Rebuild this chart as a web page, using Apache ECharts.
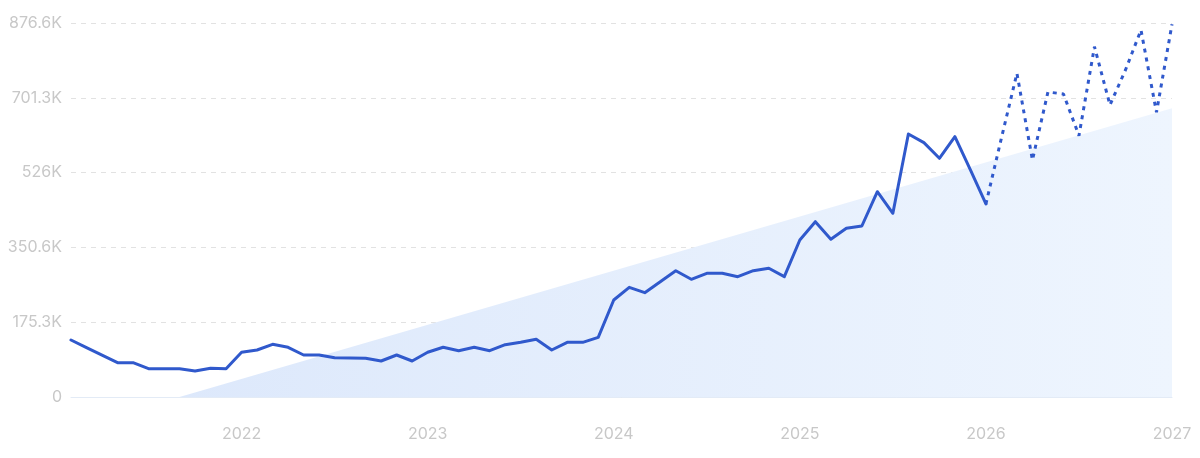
<!DOCTYPE html>
<html>
<head>
<meta charset="utf-8">
<script src="https://cdn.jsdelivr.net/npm/echarts@6/dist/echarts.min.js"></script>
<style>
html,body{margin:0;padding:0;background:#fff;}
#chart{width:1200px;height:458px;}
</style>
</head>
<body>
<div id="chart"></div>
<script>
// Monthly categories, Feb 2021 .. Jan 2027
var startYear = 2021, startMonth = 2, monthCount = 72;
var categories = [];
for (var k = 0; k < monthCount; k++) {
  var m = (startMonth - 1 + k) % 12 + 1;
  var y = startYear + Math.floor((startMonth - 1 + k) / 12);
  categories.push(y + '-' + (m < 10 ? '0' + m : m));
}

// Values in thousands
var actualValues = [
  133.6,115.8,98,80.4,80.4,66.3,66.3,66.3,61,67.3,
  66.3,104.8,110.2,123.5,116.5,98.4,98.4,92.1,91.4,90.7,
  84.4,98.4,84.4,104.8,116.5,108.5,116.5,108.5,122.6,128.2,
  135.2,110.2,128.2,128.2,139.9,227.4,257.1,244.5,270.3,296,
  275.9,289.9,289.9,282,296,301.7,282,368,410.9,369.6,
  395.4,400.8,481.2,430.6,616.4,596.1,559.5,610.1,532.1,452.4
];
var forecastValues = [452.4,607,758.7,555.5,714.9,710.2,612.5,821,684.4,766.5,860.2,667.3,873.6];
var trendStart = -74;   // trend value at first month
var trendEnd = 677;     // trend value at last month

var yTickLabels = ['0','175.3K','350.6K','526K','701.3K','876.6K'];
var yMax = 876.6, yStep = 175.32;

var actualData = categories.map(function(c, i){ return i < actualValues.length ? actualValues[i] : null; });
var fcStart = actualValues.length - 1;
var forecastData = categories.map(function(c, i){ return i >= fcStart ? forecastValues[i - fcStart] : null; });
var trendData = categories.map(function(c, i){
  if (i === 0) return trendStart;
  if (i === categories.length - 1) return trendEnd;
  return null;
});

var chart = echarts.init(document.getElementById('chart'), null, {renderer:'canvas'});
var labelColor = '#c8c8c8';
chart.setOption({
  animation:false,
  grid:{left:71,right:28,top:23,bottom:61,containLabel:false},
  xAxis:{
    type:'category',
    data:categories,
    boundaryGap:false,
    axisLine:{show:true,lineStyle:{color:'#e3ebf6',width:1}},
    axisTick:{show:false},
    splitLine:{show:false},
    axisLabel:{
      color:labelColor,fontSize:16,fontFamily:'Inter',margin:29,
      interval:function(i, v){ return v.slice(5) === '01'; },
      formatter:function(v){ return v.slice(0,4); }
    }
  },
  yAxis:{
    type:'value',min:0,max:yMax,interval:yStep,
    axisLine:{show:false},axisTick:{show:false},
    splitLine:{show:true,lineStyle:{color:'#e2e2e2',type:[5,5],width:1}},
    axisLabel:{
      color:labelColor,fontSize:16,fontFamily:'Inter',margin:9,
      formatter:function(v){ return yTickLabels[Math.round(v / yStep)]; }
    }
  },
  series:[
    {
      name:'trend',type:'line',data:trendData,connectNulls:true,
      showSymbol:false,symbol:'none',silent:true,z:1,
      lineStyle:{width:0,opacity:0},
      areaStyle:{
        opacity:1,
        color:new echarts.graphic.LinearGradient(0,0,1,0,[
          {offset:0,color:'#dbe7fb'},
          {offset:1,color:'#eef5fe'}
        ])
      }
    },
    {
      name:'actual',type:'line',data:actualData,
      showSymbol:false,symbol:'none',z:3,
      lineStyle:{color:'#3059cc',width:3,join:'round',cap:'round'}
    },
    {
      name:'forecast',type:'line',data:forecastData,
      showSymbol:false,symbol:'none',z:3,
      lineStyle:{color:'#3059cc',width:3,type:[4,5]}
    }
  ]
});
</script>
</body>
</html>
